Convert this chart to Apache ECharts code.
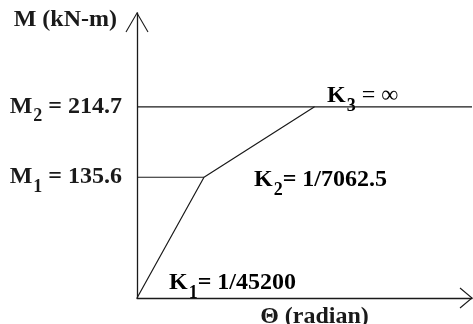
<!DOCTYPE html>
<html>
<head>
<meta charset="utf-8">
<style>
  html, body { margin: 0; padding: 0; background: #fff; }
  #chart { width: 473px; height: 324px; }
</style>
<script src="https://cdn.jsdelivr.net/npm/echarts@6/dist/echarts.min.js"></script>
</head>
<body>
<div id="chart"></div>
<script>
// Trilinear moment-rotation backbone (schematic rotation axis)
const thetaPts = [0, 2.0, 5.3, 10];
const momentPts = [0, 135.6, 214.7, 214.7];

// Characteristic moment levels and their labels
const momentLevels = [135.6, 214.7];
const momentSubs = ['1', '2'];

// Stiffness annotations
const stiffLabels = [
  { sub: '1', text: '= 1/45200', left: 169, y: 283 },
  { sub: '2', text: '= 1/7062.5', left: 254, y: 180 },
  { sub: '3', text: ' = \u221E', left: 327, y: 96 }
];

const thetaMax = 10;
const momentMax = 320;

const FONT = '"Liberation Serif", "Times New Roman", serif';
const INK = '#1a1a1a';
const SIZE = 24;

const rich = {
  b: { fontFamily: FONT, fontWeight: 'bold', fontSize: SIZE, color: INK, lineHeight: 28 },
  s: { fontFamily: FONT, fontWeight: 'bold', fontSize: 18, color: INK, lineHeight: 28, padding: [20, 0, 0, 1] },
  n: { fontFamily: FONT, fontWeight: 'normal', fontSize: SIZE, color: INK, lineHeight: 28 }
};

const backbone = thetaPts.map((t, i) => [t, momentPts[i]]);
const guideM1 = [[0, momentLevels[0]], [thetaPts[1], momentLevels[0]]];
const guideM2 = [[0, momentLevels[1]], [thetaPts[2], momentLevels[1]]];

const chart = echarts.init(document.getElementById('chart'), null, { renderer: 'canvas' });

const lineStyle = { color: INK, width: 1.2 };

chart.setOption({
  animation: false,
  backgroundColor: '#fff',
  grid: { left: 137, right: 1, top: 13, bottom: 26, containLabel: false, outerBoundsMode: 'none' },
  xAxis: {
    type: 'value',
    min: 0,
    max: thetaMax,
    name: '\u0398 (radian)',
    nameLocation: 'middle',
    nameGap: 19,
    nameTextStyle: {
      fontFamily: FONT, fontWeight: 'bold', fontSize: SIZE, color: INK,
      verticalAlign: 'middle', padding: [0, 0, 0, 20]
    },
    axisLine: { show: true, onZero: false, lineStyle: { color: INK, width: 1.3 } },
    axisTick: { show: false },
    axisLabel: { show: false },
    splitLine: { show: false }
  },
  yAxis: {
    type: 'value',
    min: 0,
    max: momentMax,
    name: 'M (kN-m)',
    nameLocation: 'end',
    nameGap: -7,
    nameTextStyle: {
      fontFamily: FONT, fontWeight: 'bold', fontSize: SIZE, color: INK,
      align: 'right', verticalAlign: 'middle', padding: [0, 20, 0, 0]
    },
    axisLine: { show: true, onZero: false, lineStyle: { color: INK, width: 1.3 } },
    axisTick: { show: false },
    splitLine: { show: false },
    axisLabel: {
      show: true,
      customValues: momentLevels,
      margin: 15,
      formatter: function (v) {
        const i = momentLevels.indexOf(v);
        if (i < 0) return '';
        return '{b|M}{s|' + momentSubs[i] + '}{b| = ' + v.toFixed(1) + '}';
      },
      rich: rich
    }
  },
  series: [
    {
      type: 'line', data: backbone, symbol: 'none',
      lineStyle: lineStyle, silent: true
    },
    {
      type: 'line', data: guideM1, symbol: 'none',
      lineStyle: lineStyle, silent: true
    },
    {
      type: 'line', data: guideM2, symbol: 'none',
      lineStyle: lineStyle, silent: true
    }
  ]
});

// Open arrowheads at the axis ends plus the stiffness annotations
const xEnd = chart.convertToPixel({ gridIndex: 0 }, [thetaMax, 0]);
const yEnd = chart.convertToPixel({ gridIndex: 0 }, [0, momentMax]);

const graphics = [
  {
    type: 'polyline',
    shape: { points: [[xEnd[0] - 12, xEnd[1] - 10], [xEnd[0], xEnd[1]], [xEnd[0] - 12, xEnd[1] + 10]] },
    style: { stroke: INK, lineWidth: 1.1, fill: null }
  },
  {
    type: 'polyline',
    shape: { points: [[yEnd[0] - 11, yEnd[1] + 19], [yEnd[0], yEnd[1]], [yEnd[0] + 11, yEnd[1] + 19]] },
    style: { stroke: INK, lineWidth: 1.1, fill: null }
  }
];

stiffLabels.forEach(function (k) {
  graphics.push({
    type: 'text',
    x: k.left,
    y: k.y,
    style: {
      text: '{b|K}{s|' + k.sub + '}' + (k.sub === '3' ? '{n|' + k.text + '}' : '{b|' + k.text + '}'),
      rich: rich,
      align: 'left',
      verticalAlign: 'middle'
    }
  });
});

chart.setOption({ graphic: graphics });
</script>
</body>
</html>
